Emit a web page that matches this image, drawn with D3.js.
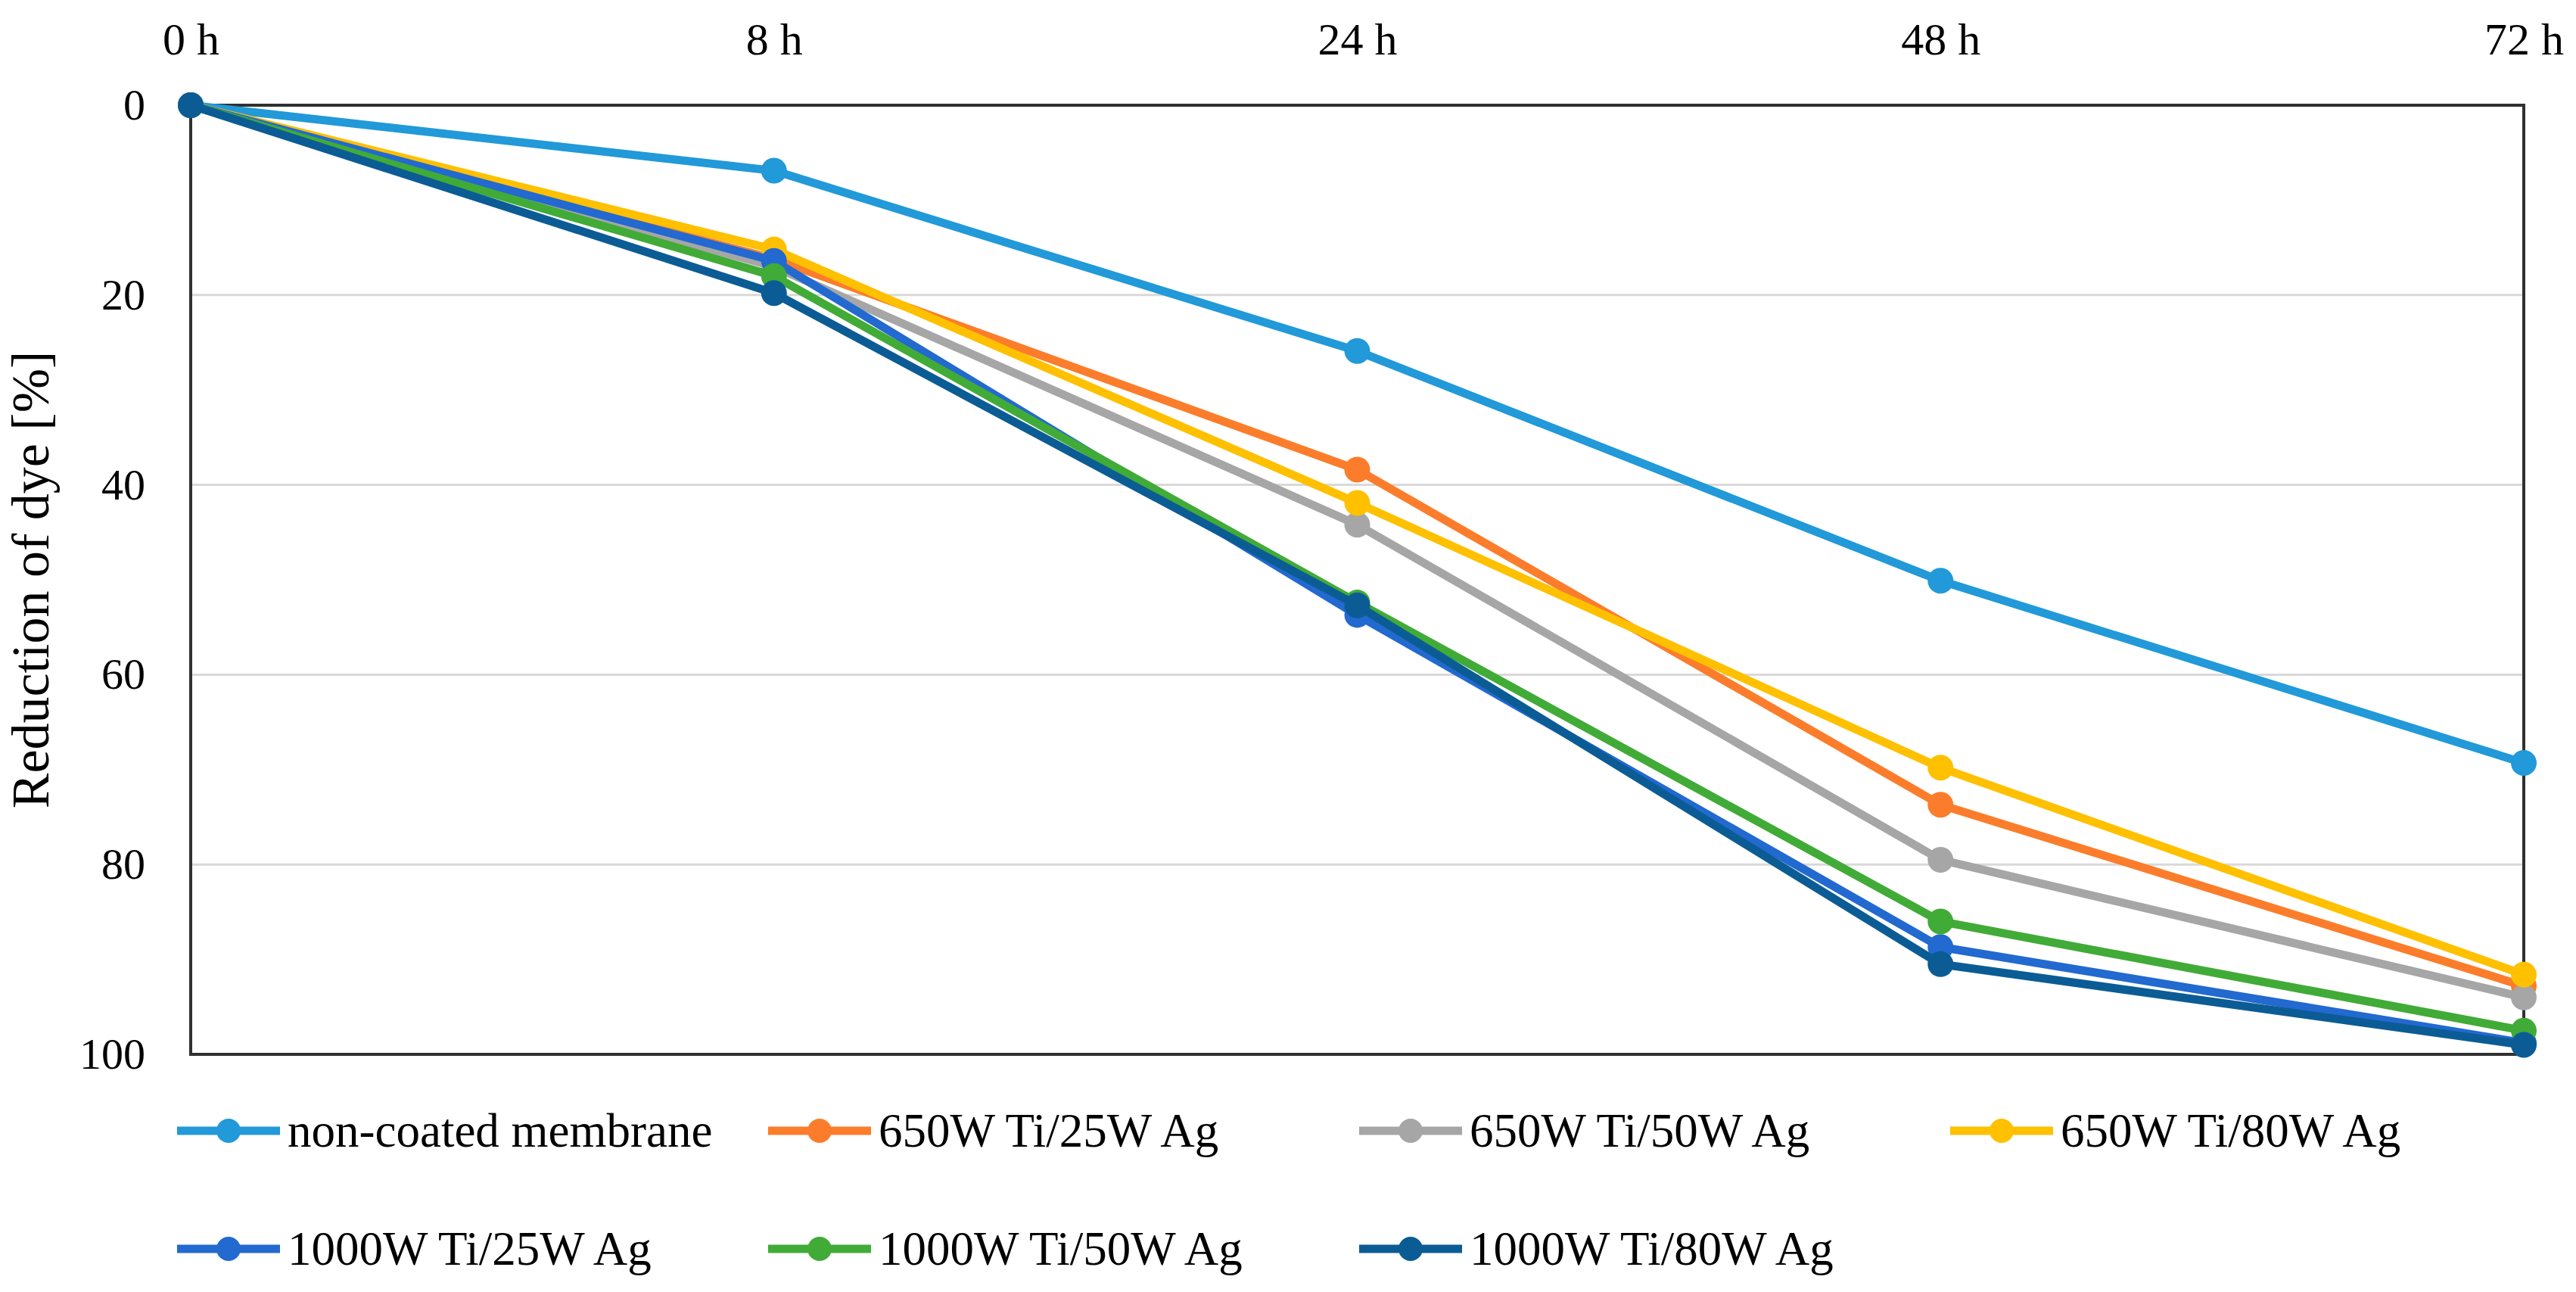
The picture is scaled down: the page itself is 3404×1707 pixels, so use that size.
<!DOCTYPE html>
<html>
<head>
<meta charset="utf-8">
<script src="https://cdn.jsdelivr.net/npm/d3@7"></script>
<style>
    body { margin: 0; background: #fff; }
    svg { display: block; }
    .tick text { font-family: "Liberation Serif", "DejaVu Serif", serif; fill: #000; }
</style>
</head>
<body>
<svg id="chart"></svg>
<script>
// values (reduction of dye, %)
const timeLabels = ["0 h", "8 h", "24 h", "48 h", "72 h"];
const yTicks = [0, 20, 40, 60, 80, 100];

const seriesNames = [
    "non-coated membrane",
    "650W Ti/25W Ag",
    "650W Ti/50W Ag",
    "650W Ti/80W Ag",
    "1000W Ti/25W Ag",
    "1000W Ti/50W Ag",
    "1000W Ti/80W Ag"
];
const nonCoated  = [0, 6.9, 25.9, 50.1, 69.3];
const ti650ag25  = [0, 16.2, 38.4, 73.7, 92.8];
const ti650ag50  = [0, 17.0, 44.2, 79.5, 94.0];
const ti650ag80  = [0, 15.2, 41.9, 69.8, 91.6];
const ti1000ag25 = [0, 16.4, 53.7, 88.7, 98.8];
const ti1000ag50 = [0, 18.0, 52.4, 86.0, 97.5];
const ti1000ag80 = [0, 19.8, 52.7, 90.5, 99.0];
const seriesColors = ["#2299d8", "#fb7d2b", "#a6a6a6", "#ffc000", "#2269d0", "#41ab37", "#0b5c95"];

class LineChart {
    constructor(_config, _data) {
        this.config = {
            parentElement: _config.parentElement,
            containerWidth: _config.containerWidth || 3404,
            containerHeight: _config.containerHeight || 1707,
            margin: _config.margin || {top: 139, right: 69, bottom: 314, left: 252},
            font: '"Liberation Serif", "DejaVu Serif", serif'
        };
        this.data = _data;
        this.initVis();
    }

    initVis() {
        let vis = this;
        vis.width = vis.config.containerWidth - vis.config.margin.left - vis.config.margin.right;
        vis.height = vis.config.containerHeight - vis.config.margin.top - vis.config.margin.bottom;

        vis.svg = d3.select(vis.config.parentElement)
            .attr("width", vis.config.containerWidth)
            .attr("height", vis.config.containerHeight);

        vis.chart = vis.svg.append("g")
            .attr("transform", `translate(${vis.config.margin.left},${vis.config.margin.top})`);

        vis.xScale = d3.scalePoint()
            .domain(timeLabels)
            .range([0, vis.width]);

        vis.yScale = d3.scaleLinear()
            .domain([0, 100])
            .range([0, vis.height]);

        vis.renderVis();
    }

    renderVis() {
        let vis = this;

        // horizontal gridlines
        vis.chart.append("g")
            .selectAll(".grid")
            .data(yTicks.slice(1, -1))
            .join("line")
            .attr("class", "grid")
            .attr("x1", 0)
            .attr("x2", vis.width)
            .attr("y1", d => vis.yScale(d))
            .attr("y2", d => vis.yScale(d))
            .attr("stroke", "#d9d9d9")
            .attr("stroke-width", 3);

        // plot border
        vis.chart.append("rect")
            .attr("width", vis.width)
            .attr("height", vis.height)
            .attr("fill", "none")
            .attr("stroke", "#303030")
            .attr("stroke-width", 4);

        // time labels on top
        let xAxis = vis.chart.append("g")
            .call(d3.axisTop(vis.xScale).tickSize(0).tickPadding(67));
        xAxis.select(".domain").remove();
        xAxis.selectAll("text").attr("font-size", 60);

        let yAxis = vis.chart.append("g")
            .call(d3.axisLeft(vis.yScale).tickValues(yTicks).tickSize(0).tickPadding(60));
        yAxis.select(".domain").remove();
        yAxis.selectAll("text").attr("font-size", 58);

        // y title
        vis.svg.append("text")
            .attr("transform", `translate(64,${vis.config.margin.top + vis.height / 2}) rotate(-90)`)
            .attr("text-anchor", "middle")
            .attr("font-family", vis.config.font)
            .attr("font-size", 70)
            .text("Reduction of dye [%]");

        let line = d3.line()
            .x((d, i) => vis.xScale(timeLabels[i]))
            .y(d => vis.yScale(d));

        vis.series = vis.chart.selectAll(".series")
            .data(vis.data)
            .join("g")
            .attr("class", "series");

        vis.series.append("path")
            .attr("d", d => line(d.values))
            .attr("fill", "none")
            .attr("stroke", d => d.color)
            .attr("stroke-width", 11)
            .attr("stroke-linejoin", "round");

        vis.series.selectAll("circle")
            .data(d => d.values.map(v => ({v: v, color: d.color})))
            .join("circle")
            .attr("cx", (d, i) => vis.xScale(timeLabels[i]))
            .attr("cy", d => vis.yScale(d.v))
            .attr("r", 17)
            .attr("fill", d => d.color);

        // legend, 4 columns
        const legendX = 234, legendY = 1494, colW = 781, rowH = 156;
        let legend = vis.svg.append("g")
            .selectAll(".legend-item")
            .data(vis.data)
            .join("g")
            .attr("class", "legend-item")
            .attr("transform", (d, i) => `translate(${legendX + (i % 4) * colW},${legendY + Math.floor(i / 4) * rowH})`);

        legend.append("line")
            .attr("x1", 0)
            .attr("x2", 136)
            .attr("stroke", d => d.color)
            .attr("stroke-width", 11);

        legend.append("circle")
            .attr("cx", 68)
            .attr("r", 16)
            .attr("fill", d => d.color);

        legend.append("text")
            .attr("x", 146)
            .attr("dy", "0.33em")
            .attr("font-family", vis.config.font)
            .attr("font-size", 63)
            .text(d => d.name);
    }
}

const allValues = [nonCoated, ti650ag25, ti650ag50, ti650ag80, ti1000ag25, ti1000ag50, ti1000ag80];
const chartData = seriesNames.map((name, i) => ({name: name, values: allValues[i], color: seriesColors[i]}));

new LineChart({parentElement: "#chart"}, chartData);
</script>
</body>
</html>
